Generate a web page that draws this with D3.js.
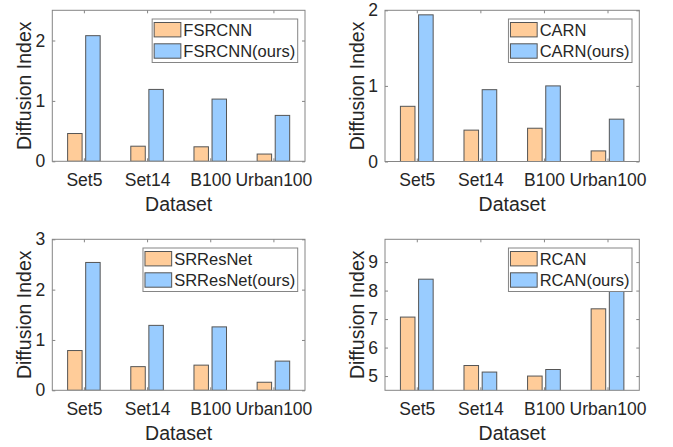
<!DOCTYPE html>
<html>
<head>
<meta charset="utf-8">
<script src="https://cdn.jsdelivr.net/npm/d3@7"></script>
<style>
html,body{margin:0;padding:0;background:#fff;}
svg{display:block;}
text{font-family:"Liberation Sans",Arial,Helvetica,sans-serif;fill:#262626;}
</style>
</head>
<body>
<svg id="chart" width="673" height="447"></svg>
<script>
const categories = ["Set5", "Set14", "B100", "Urban100"];

const fsrcnn      = [0.46, 0.25, 0.24, 0.12];
const fsrcnnOurs  = [2.08, 1.19, 1.03, 0.76];
const carn        = [0.73, 0.415, 0.44, 0.14];
const carnOurs    = [1.94, 0.95, 1.00, 0.56];
const srresnet    = [0.79, 0.47, 0.50, 0.16];
const srresnetOurs= [2.54, 1.29, 1.26, 0.58];
const rcan        = [7.07, 5.37, 5.00, 7.36];
const rcanOurs    = [8.40, 5.14, 5.23, 8.70];

const yTicks1 = [0, 1, 2];
const yTicks2 = [0, 1, 2];
const yTicks3 = [0, 1, 2, 3];
const yTicks4 = [5, 6, 7, 8, 9];

const panels = [
  {names: ["FSRCNN", "FSRCNN(ours)"], a: fsrcnn, b: fsrcnnOurs, ylim: [0, 2.5], ticks: yTicks1,
   box: {l: 52.3, r: 305, t: 10.3, b: 161.3}},
  {names: ["CARN", "CARN(ours)"], a: carn, b: carnOurs, ylim: [0, 2], ticks: yTicks2,
   box: {l: 385, r: 639.3, t: 10.3, b: 161.5}},
  {names: ["SRResNet", "SRResNet(ours)"], a: srresnet, b: srresnetOurs, ylim: [0, 3], ticks: yTicks3,
   box: {l: 52.3, r: 305, t: 239.3, b: 390.3}},
  {names: ["RCAN", "RCAN(ours)"], a: rcan, b: rcanOurs, ylim: [4.5, 9.8], ticks: yTicks4,
   box: {l: 385, r: 639.3, t: 239.3, b: 390.3}}
];

const colA = "#FFCC99", colB = "#99CCFF";
const edge = "#555555", frame = "#858585";
const svg = d3.select("#chart");

panels.forEach((p, pi) => {
  const bx = p.box;
  const x = d3.scaleLinear().domain([0.5, 4.5]).range([bx.l, bx.r]);
  const y = d3.scaleLinear().domain(p.ylim).range([bx.b, bx.t]);
  const g = svg.append("g");
  const clipId = "clip" + pi;
  svg.append("clipPath").attr("id", clipId).append("rect")
    .attr("x", bx.l).attr("y", bx.t).attr("width", bx.r - bx.l).attr("height", bx.b - bx.t);

  const off = 0.143, bw = 0.229;
  const bars = g.append("g").attr("clip-path", `url(#${clipId})`);
  [[p.a, -off, colA], [p.b, off, colB]].forEach(([vals, o, c]) => {
    bars.selectAll(null).data(vals).enter().append("rect")
      .attr("x", (d, i) => x(i + 1 + o - bw / 2))
      .attr("width", (d, i) => x(i + 1 + o + bw / 2) - x(i + 1 + o - bw / 2))
      .attr("y", d => y(d))
      .attr("height", d => Math.max(0, y(Math.max(p.ylim[0], 0)) - y(d) + (p.ylim[0] > 0 ? 5 : 0)))
      .attr("fill", c).attr("stroke", edge).attr("stroke-width", 1);
  });

  // axes
  const xb = d3.axisBottom(x).tickValues([1, 2, 3, 4]).tickFormat(i => categories[i - 1])
    .tickSizeInner(-3).tickSizeOuter(0).tickPadding(12);
  const xt = d3.axisTop(x).tickValues([1, 2, 3, 4]).tickFormat("")
    .tickSizeInner(-3).tickSizeOuter(0);
  const yl = d3.axisLeft(y).tickValues(p.ticks).tickFormat(d3.format("d"))
    .tickSizeInner(-3).tickSizeOuter(0).tickPadding(7);
  const yr = d3.axisRight(y).tickValues(p.ticks).tickFormat("")
    .tickSizeInner(-3).tickSizeOuter(0);
  const ax = [
    g.append("g").attr("transform", `translate(0,${bx.b})`).call(xb),
    g.append("g").attr("transform", `translate(0,${bx.t})`).call(xt),
    g.append("g").attr("transform", `translate(${bx.l},0)`).call(yl),
    g.append("g").attr("transform", `translate(${bx.r},0)`).call(yr)
  ];
  ax.forEach(a => {
    a.select(".domain").remove();
    a.selectAll("line").attr("stroke", frame).attr("stroke-width", 1);
    a.selectAll("text").style("font-size", "17.5px").attr("fill", "#262626")
      .style("font-family", '"Liberation Sans",Arial,sans-serif');
  });
  g.append("rect").attr("x", bx.l).attr("y", bx.t)
    .attr("width", bx.r - bx.l).attr("height", bx.b - bx.t)
    .attr("fill", "none").attr("stroke", frame).attr("stroke-width", 1);

  // labels
  g.append("text").attr("x", (bx.l + bx.r) / 2).attr("y", bx.b + 49.7)
    .attr("text-anchor", "middle").style("font-size", "19.5px").text("Dataset");
  g.append("text")
    .attr("transform", `translate(${bx.l - 21.3},${(bx.t + bx.b) / 2}) rotate(-90)`)
    .attr("text-anchor", "middle").style("font-size", "19.5px").text("Diffusion Index");

  // legend
  const lg = g.append("g");
  const lbox = lg.append("rect").attr("fill", "#fff").attr("stroke", frame).attr("stroke-width", 1);
  const texts = p.names.map((n, k) => lg.append("text").style("font-size", "16.5px").text(n));
  const tw = d3.max(texts, t => t.node().getComputedTextLength());
  const lw = 2 + 26.7 + 2.5 + tw + 2.5;
  const lh = 43.5;
  const lr = bx.r - 7.3, lt = bx.t + 8.7, ll = lr - lw;
  lbox.attr("x", ll).attr("y", lt).attr("width", lw).attr("height", lh);
  [colA, colB].forEach((c, k) => {
    const cy = lt + 10.7 + k * 21.3;
    lg.append("rect").attr("x", ll + 2).attr("y", cy - 7.2).attr("width", 26.7).attr("height", 14.4)
      .attr("fill", c).attr("stroke", edge).attr("stroke-width", 1);
    texts[k].attr("x", ll + 2 + 26.7 + 2.5).attr("y", cy).attr("dy", "0.36em");
  });
});
</script>
</body>
</html>
